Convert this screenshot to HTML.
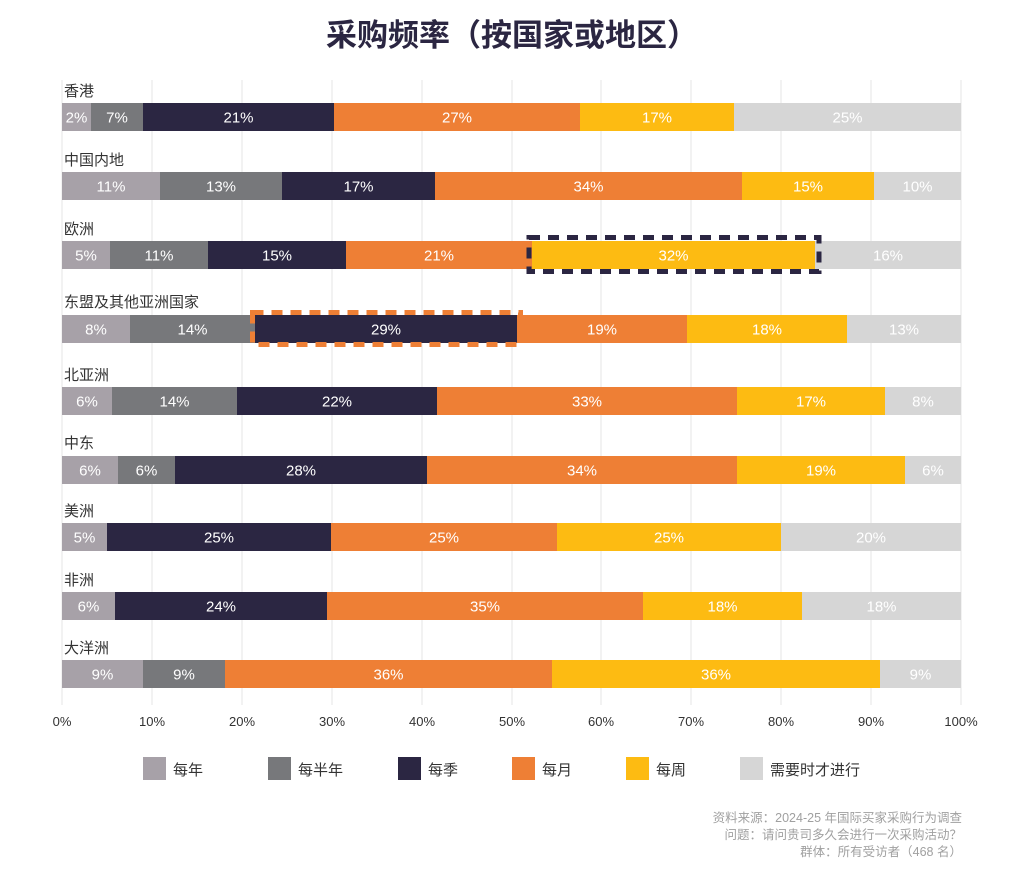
<!DOCTYPE html>
<html><head><meta charset="utf-8"><style>
body{margin:0;background:#fff;}
svg text{font-family:"Liberation Sans","Noto Sans CJK SC",sans-serif;}
</style></head><body>
<svg width="1024" height="867" viewBox="0 0 1024 867" xmlns="http://www.w3.org/2000/svg">
<text x="512" y="46" text-anchor="middle" font-size="31" font-weight="bold" fill="#2b2642">采购频率（按国家或地区）</text>
<g stroke="#e6e6e6" stroke-width="1">
<line x1="62" y1="80" x2="62" y2="705"/><line x1="152" y1="80" x2="152" y2="705"/><line x1="242" y1="80" x2="242" y2="705"/><line x1="332" y1="80" x2="332" y2="705"/><line x1="422" y1="80" x2="422" y2="705"/><line x1="512" y1="80" x2="512" y2="705"/><line x1="601" y1="80" x2="601" y2="705"/><line x1="691" y1="80" x2="691" y2="705"/><line x1="781" y1="80" x2="781" y2="705"/><line x1="871" y1="80" x2="871" y2="705"/><line x1="961" y1="80" x2="961" y2="705"/>
</g>
<g font-size="15" fill="#333">
<text x="64" y="96">香港</text><text x="64" y="165">中国内地</text><text x="64" y="234">欧洲</text><text x="64" y="307">东盟及其他亚洲国家</text><text x="64" y="380">北亚洲</text><text x="64" y="448">中东</text><text x="64" y="516">美洲</text><text x="64" y="585">非洲</text><text x="64" y="653">大洋洲</text>
</g>
<g id="bars"></g>
<rect x="529" y="237.5" width="290" height="34" fill="none" stroke="#2b2642" stroke-width="5" stroke-dasharray="11,8"/>
<rect x="252.5" y="312.5" width="268" height="32" fill="none" stroke="#ee7f35" stroke-width="5" stroke-dasharray="11,8"/>
<g id="lbl" font-size="15" fill="#fff" text-anchor="middle"></g>
<g font-size="13" fill="#333" text-anchor="middle">
<text x="62" y="726">0%</text><text x="152" y="726">10%</text><text x="242" y="726">20%</text><text x="332" y="726">30%</text><text x="422" y="726">40%</text><text x="512" y="726">50%</text><text x="601" y="726">60%</text><text x="691" y="726">70%</text><text x="781" y="726">80%</text><text x="871" y="726">90%</text><text x="961" y="726">100%</text>
</g>
<g font-size="15" fill="#333">
<rect x="143" y="757" width="23" height="23" fill="#a7a1a8"/><text x="173" y="775">每年</text>
<rect x="268" y="757" width="23" height="23" fill="#77787b"/><text x="298" y="775">每半年</text>
<rect x="398" y="757" width="23" height="23" fill="#2b2642"/><text x="428" y="775">每季</text>
<rect x="512" y="757" width="23" height="23" fill="#ee7f35"/><text x="542" y="775">每月</text>
<rect x="626" y="757" width="23" height="23" fill="#fdbb12"/><text x="656" y="775">每周</text>
<rect x="740" y="757" width="23" height="23" fill="#d6d6d6"/><text x="770" y="775">需要时才进行</text>
</g>
<g font-size="12.5" fill="#a0a0a0" text-anchor="end">
<text x="962" y="822">资料来源：2024-25 年国际买家采购行为调查</text>
<text x="962" y="839">问题：请问贵司多久会进行一次采购活动？</text>
<text x="962" y="856">群体：所有受访者（468 名）</text>
</g>
</svg>
<script>
var C=["#a7a1a8","#77787b","#2b2642","#ee7f35","#fdbb12","#d6d6d6"];
var rows=[
[103,[[0,62,91,"2%"],[1,91,143,"7%"],[2,143,334,"21%"],[3,334,580,"27%"],[4,580,734,"17%"],[5,734,961,"25%"]]],
[172,[[0,62,160,"11%"],[1,160,282,"13%"],[2,282,435,"17%"],[3,435,742,"34%"],[4,742,874,"15%"],[5,874,961,"10%"]]],
[241,[[0,62,110,"5%"],[1,110,208,"11%"],[2,208,346,"15%"],[3,346,532,"21%"],[4,532,815,"32%"],[5,815,961,"16%"]]],
[315,[[0,62,130,"8%"],[1,130,255,"14%"],[2,255,517,"29%"],[3,517,687,"19%"],[4,687,847,"18%"],[5,847,961,"13%"]]],
[387,[[0,62,112,"6%"],[1,112,237,"14%"],[2,237,437,"22%"],[3,437,737,"33%"],[4,737,885,"17%"],[5,885,961,"8%"]]],
[456,[[0,62,118,"6%"],[1,118,175,"6%"],[2,175,427,"28%"],[3,427,737,"34%"],[4,737,905,"19%"],[5,905,961,"6%"]]],
[523,[[0,62,107,"5%"],[2,107,331,"25%"],[3,331,557,"25%"],[4,557,781,"25%"],[5,781,961,"20%"]]],
[592,[[0,62,115,"6%"],[2,115,327,"24%"],[3,327,643,"35%"],[4,643,802,"18%"],[5,802,961,"18%"]]],
[660,[[0,62,143,"9%"],[1,143,225,"9%"],[3,225,552,"36%"],[4,552,880,"36%"],[5,880,961,"9%"]]]];
var ns="http://www.w3.org/2000/svg",b=document.getElementById("bars"),l=document.getElementById("lbl");
rows.forEach(function(r){r[1].forEach(function(s){
var e=document.createElementNS(ns,"rect");e.setAttribute("x",s[1]);e.setAttribute("y",r[0]);e.setAttribute("width",s[2]-s[1]);e.setAttribute("height",28);e.setAttribute("fill",C[s[0]]);b.appendChild(e);
var t=document.createElementNS(ns,"text");t.setAttribute("x",(s[1]+s[2])/2);t.setAttribute("y",r[0]+19.5);t.textContent=s[3];l.appendChild(t);});});
</script>
</body></html>
